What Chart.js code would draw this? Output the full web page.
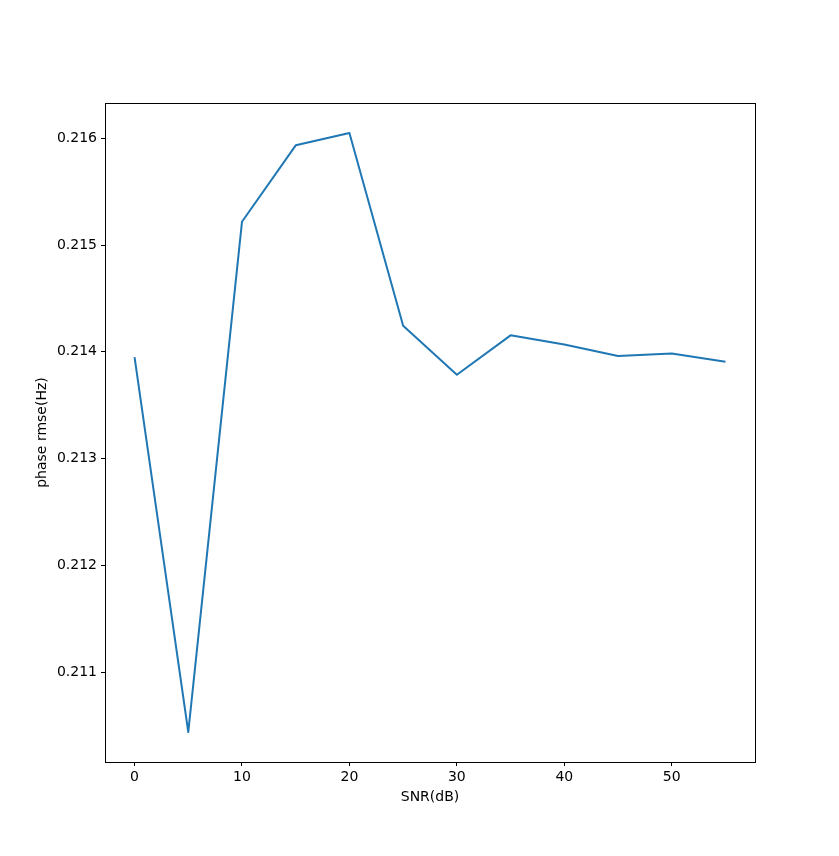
<!DOCTYPE html>
<html>
<head>
<meta charset="utf-8">
<script src="https://cdn.jsdelivr.net/npm/chart.js@4/dist/chart.umd.min.js"></script>
<style>
html,body{margin:0;padding:0;background:#fff;}
#wrap{width:839px;height:856px;}
</style>
</head>
<body>
<div id="wrap"><canvas id="c" width="839" height="856"></canvas></div>
<script>
const snr = [0, 5, 10, 15, 20, 25, 30, 35, 40, 45, 50, 55];
const rmse = [0.21395, 0.210438, 0.215218, 0.215934, 0.21605, 0.214243, 0.213785, 0.214154, 0.214068, 0.21396, 0.213984, 0.213906];
const xTicks = [0, 10, 20, 30, 40, 50];
const yTicks = [0.211, 0.212, 0.213, 0.214, 0.215, 0.216];

const xMinD = Math.min(...snr), xMaxD = Math.max(...snr);
const yMinD = Math.min(...rmse), yMaxD = Math.max(...rmse);
const xm = (xMaxD - xMinD) * 0.05, ym = (yMaxD - yMinD) * 0.05;

const font = {family: 'DejaVu Sans', size: 14, lineHeight: 1.15};

const boxPlugin = {
  id: 'box',
  afterDraw(chart) {
    const {ctx, chartArea: a} = chart;
    ctx.save();
    ctx.strokeStyle = '#000';
    ctx.lineWidth = 1;
    ctx.strokeRect(Math.round(a.left) + 0.5, Math.round(a.top) + 0.5, Math.round(a.right - a.left), Math.round(a.bottom - a.top));
    ctx.restore();
  }
};

new Chart(document.getElementById('c'), {
  type: 'line',
  data: {
    datasets: [{
      data: snr.map((x, i) => ({x: x, y: rmse[i]})),
      borderColor: '#1f77b4',
      borderWidth: 2,
      borderJoinStyle: 'round',
      borderCapStyle: 'butt',
      pointRadius: 0,
      fill: false,
      tension: 0
    }]
  },
  options: {
    responsive: false,
    animation: false,
    layout: {padding: {top: 103, right: 84, left: 0, bottom: 0}},
    plugins: {legend: {display: false}, tooltip: {enabled: false}},
    scales: {
      x: {
        type: 'linear',
        min: xMinD - xm,
        max: xMaxD + xm,
        afterBuildTicks(s) { s.ticks = xTicks.map(v => ({value: v})); },
        afterFit(s) { s.height = 94; },
        ticks: {color: '#000', font: font, padding: 3, maxRotation: 0, callback: v => String(v)},
        grid: {drawOnChartArea: false, tickLength: 4, tickColor: '#000', tickWidth: 1},
        border: {display: true, color: '#000', width: 1},
        title: {display: true, text: 'SNR(dB)', color: '#000', font: font, padding: {top: 0, bottom: 51}}
      },
      y: {
        type: 'linear',
        min: yMinD - ym,
        max: yMaxD + ym,
        afterBuildTicks(s) { s.ticks = yTicks.map(v => ({value: v})); },
        afterFit(s) { s.width = 105; },
        ticks: {color: '#000', font: font, padding: 4, callback: v => v.toFixed(3)},
        grid: {drawOnChartArea: false, tickLength: 4, tickColor: '#000', tickWidth: 1},
        border: {display: true, color: '#000', width: 1},
        title: {display: true, text: 'phase rmse(Hz)', color: '#000', font: font, padding: {top: 34, bottom: 0}}
      }
    }
  },
  plugins: [boxPlugin]
});
</script>
</body>
</html>
